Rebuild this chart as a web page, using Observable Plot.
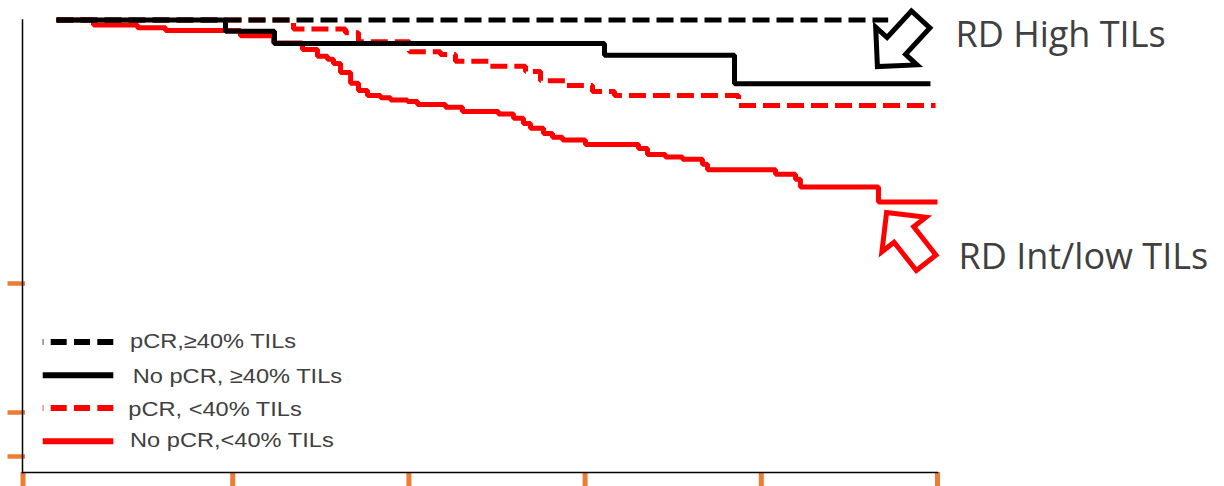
<!DOCTYPE html>
<html><head><meta charset="utf-8">
<script src="https://cdn.jsdelivr.net/npm/d3@7"></script>
<script src="https://cdn.jsdelivr.net/npm/@observablehq/plot@0.6"></script>
<style>
html,body{margin:0;padding:0;background:#fff;}
#wrap{position:relative;width:1224px;height:486px;overflow:hidden;}
#wrap svg{display:block;}
#legend{position:absolute;left:0;top:0;pointer-events:none;}
</style></head><body><div id="wrap"></div>
<script>
// ---- data: follow-up time (years) and survival proportion ----
const pcrHighT   = [0, 4.72];
const pcrHighS   = [1, 1];

const noPcrHighT = [0, 0.959, 1.237, 3.110, 3.848, 4.96];
const noPcrHighS = [1, 0.975, 0.948, 0.922, 0.859, 0.859];

const pcrLowT = [0, 1.345, 1.640, 1.714, 2.003, 2.179, 2.264, 2.452, 2.662, 2.747, 2.889, 3.042, 3.167, 3.871, 4.989];
const pcrLowS = [1, 0.980, 0.972, 0.952, 0.930, 0.924, 0.909, 0.898, 0.886, 0.866, 0.855, 0.842, 0.833, 0.811, 0.811];

const noPcrLowT = [0, 0.210, 0.460, 0.619, 1.044, 1.232, 1.396, 1.481, 1.538, 1.572, 1.612, 1.669, 1.714, 1.765, 1.839, 1.896, 1.992, 2.049, 2.208, 2.304, 2.508, 2.594, 2.650, 2.690, 2.764, 2.815, 2.872, 3.002, 3.303, 3.354, 3.456, 3.553, 3.666, 3.695, 4.081, 4.194, 4.222, 4.665, 5.0];
const noPcrLowS = [1, 0.989, 0.983, 0.977, 0.965, 0.949, 0.935, 0.920, 0.913, 0.904, 0.884, 0.860, 0.844, 0.833, 0.828, 0.823, 0.820, 0.813, 0.807, 0.798, 0.792, 0.783, 0.771, 0.761, 0.749, 0.741, 0.735, 0.725, 0.716, 0.703, 0.697, 0.692, 0.681, 0.669, 0.659, 0.648, 0.631, 0.598, 0.598];

const xTicks = [-0.19, 1, 2, 3, 4, 5];
const yTicks = [0.4177, 0.1326, 0.0354];

const legendLabels = ["pCR,\u226540% TILs", "No pCR, \u226540% TILs", "pCR, <40% TILs", "No pCR,<40% TILs"];
const legendColors = ["#000000", "#000000", "#ff0000", "#ff0000"];
const legendDashed = [true, false, true, false];

const annotLabels = ["RD High TILs", "RD Int/low TILs"];
const annotT = [5.102, 5.119];
const annotS = [0.9414, 0.4508];

const arrowTipT = [4.659, 4.711];
const arrowTipS = [0.897, 0.5746];
const arrowAngle = [222.5, 321.8];

// ---- build tables ----
const series = (T, S) => T.map((t, i) => ({t, s: S[i]}));
const pcrHigh = series(pcrHighT, pcrHighS);
const noPcrHigh = series(noPcrHighT, noPcrHighS);
const pcrLow = series(pcrLowT, pcrLowS);
const noPcrLow = series(noPcrLowT, noPcrLowS);
const annots = annotLabels.map((label, i) => ({label, t: annotT[i], s: annotS[i]}));
const arrows = arrowTipT.map((t, i) => ({t, s: arrowTipS[i], angle: arrowAngle[i]}));

const ORANGE = "#ED7D31";
const DASH = "17,7";

const blockArrow = {
  draw(ctx, l) {
    const hw = 28, hl = 28, sw = 12.5;
    ctx.moveTo(0, -l);
    ctx.lineTo(hw, -l + hl);
    ctx.lineTo(sw, -l + hl);
    ctx.lineTo(sw, 0);
    ctx.lineTo(-sw, 0);
    ctx.lineTo(-sw, -l + hl);
    ctx.lineTo(-hw, -l + hl);
    ctx.closePath();
  }
};

const lineOpts = (stroke, dash) => ({x: "t", y: "s", curve: "step-after", stroke, strokeWidth: 5, strokeDasharray: dash, strokeLinejoin: "miter", strokeLinecap: "butt"});

const chart = Plot.plot({
  width: 1224,
  height: 486,
  marginLeft: 22,
  marginRight: 287,
  marginTop: 19.5,
  marginBottom: 14,
  x: {domain: [-0.193, 5]},
  y: {domain: [0, 1]},
  style: {background: "white", overflow: "visible"},
  marks: [
    Plot.axisX({ticks: xTicks, tickSize: 14, stroke: ORANGE, strokeWidth: 5, fill: "none"}),
    Plot.axisY({ticks: yTicks, tickSize: 17.5, dx: 3, stroke: ORANGE, strokeWidth: 4.5, fill: "none"}),
    Plot.frame({anchor: "left", stroke: "black", strokeWidth: 1.5}),
    Plot.frame({anchor: "bottom", stroke: "black", strokeWidth: 1.5}),
    Plot.line(noPcrLow, lineOpts("#ff0000", null)),
    Plot.line(pcrLow, lineOpts("#ff0000", DASH)),
    Plot.line(noPcrHigh, lineOpts("#000000", null)),
    Plot.line(pcrHigh, lineOpts("#000000", DASH)),
    Plot.vector([arrows[0]], {x: "t", y: "s", rotate: "angle", length: 64, anchor: "end", shape: blockArrow, stroke: "#000000", fill: "white", strokeWidth: 5, strokeLinejoin: "miter"}),
    Plot.vector([arrows[1]], {x: "t", y: "s", rotate: "angle", length: 64, anchor: "end", shape: blockArrow, stroke: "#ff0000", fill: "white", strokeWidth: 5, strokeLinejoin: "miter"}),
    Plot.text(annots, {x: "t", y: "s", text: "label", textAnchor: "start", lineAnchor: "bottom", fontSize: 36, fontFamily: "Open Sans", fill: "#404040"})
  ]
});
const wrap = document.getElementById("wrap");
wrap.appendChild(chart);

// ---- legend overlay ----
const legLineY = [342, 375.3, 408, 441.3];
const legTextX = [130, 132.7, 128.3, 130];
const legBase = [348.3, 383.3, 415.7, 446.7];
const leg = d3.select(wrap).append("svg").attr("id", "legend").attr("width", 1224).attr("height", 486);
legendLabels.forEach((label, i) => {
  leg.append("line")
    .attr("x1", 42.7).attr("x2", 113.3)
    .attr("y1", legLineY[i]).attr("y2", legLineY[i])
    .attr("stroke", legendColors[i]).attr("stroke-width", 6)
    .attr("stroke-dasharray", legendDashed[i] ? "16,7.3" : null)
    .attr("stroke-dashoffset", legendDashed[i] ? 15.3 : null);
  leg.append("text")
    .attr("transform", `translate(${legTextX[i]},${legBase[i]}) scale(1.125,1)`)
    .attr("font-family", "'Liberation Sans', Arial, sans-serif")
    .attr("font-size", 21)
    .attr("fill", "#404040")
    .text(label);
});
</script></body></html>
